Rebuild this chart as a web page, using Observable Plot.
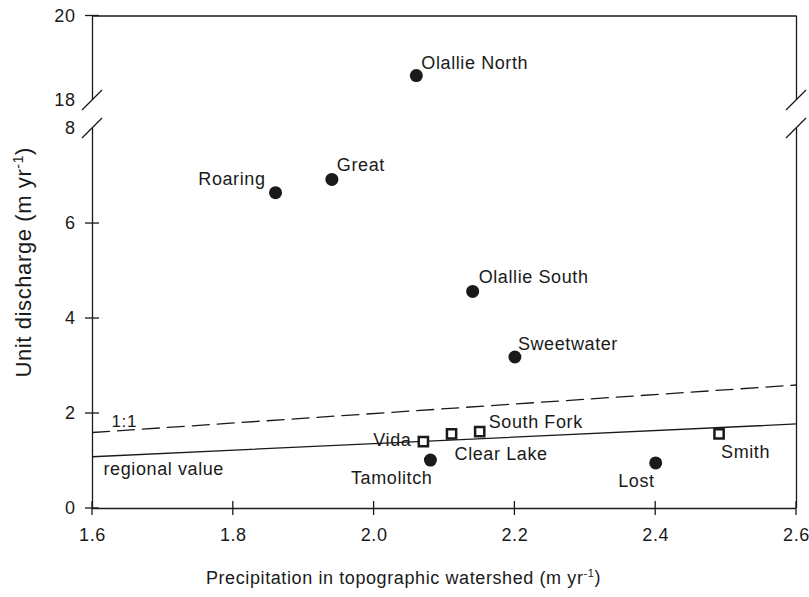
<!DOCTYPE html>
<html><head><meta charset="utf-8">
<script src="https://cdn.jsdelivr.net/npm/d3@7"></script>
<script src="https://cdn.jsdelivr.net/npm/@observablehq/plot@0.6"></script>
<style>
body{margin:0;background:#fff}
#chart svg text{letter-spacing:0.6px}
#chart g[aria-label$="tick label"]{font-size:18px}
</style>
</head><body><div id="chart"></div>
<script>
// ---- data ----
const sites     = ["Olallie North","Great","Roaring","Olallie South","Sweetwater","Tamolitch","Lost","Vida","Clear Lake","South Fork","Smith"];
const precip    = [2.06, 1.94, 1.86, 2.14, 2.20, 2.08, 2.40, 2.07, 2.11, 2.15, 2.49];
const discharge = [18.59, 6.93, 6.65, 4.57, 3.19, 1.02, 0.96, 1.41, 1.57, 1.62, 1.57];
const siteType  = ["circle","circle","circle","circle","circle","circle","circle","square","square","square","square"];
const lineX        = [1.6, 2.6];
const oneToOneY    = [1.6, 2.6];
const regionalY    = [1.09, 1.78];
const xTicks = [1.6, 1.8, 2.0, 2.2, 2.4, 2.6];
const yTicks = [0, 2, 4, 6, 8, 18, 20];
const yTickMarks = [0, 2, 4, 6, 20];
const lowerSpan = [0, 8];
const upperSpan = [18, 20];
const xTitle = "Precipitation in topographic watershed (m yr-1)";
const yTitle = "Unit discharge (m yr-1)";

// ---- broken-axis mapping (lower panel 0–8, upper panel 18–20) ----
const breakGap = 0.59;      // space between the panels, in lower-panel units
const upperScale = 0.89;    // relative vertical scale of the upper panel
const f = v => v <= lowerSpan[1] ? v : lowerSpan[1] + breakGap + (v - upperSpan[0]) * upperScale;

// ---- layout / style ----
const ink = "#1a1a1a";
const font = "'Liberation Sans', Arial, sans-serif";
const labelPos = {
  "Olallie North": {a:"start", dx:5,  dy:-12},
  "Great":         {a:"start", dx:5,  dy:-14},
  "Roaring":       {a:"end",   dx:-10,dy:-13},
  "Olallie South": {a:"start", dx:6,  dy:-14},
  "Sweetwater":    {a:"start", dx:3,  dy:-13},
  "Tamolitch":     {a:"end",   dx:2,  dy:18},
  "Lost":          {a:"end",   dx:-1, dy:18},
  "Vida":          {a:"end",   dx:-12,dy:-1},
  "Clear Lake":    {a:"start", dx:3,  dy:20},
  "South Fork":    {a:"start", dx:9,  dy:-9},
  "Smith":         {a:"start", dx:2,  dy:18}
};

const idx = sites.map((_, i) => i);
const circles = idx.filter(i => siteType[i] === "circle");
const squares = idx.filter(i => siteType[i] === "square");
const lines = lineX.map((x, i) => ({x, one: oneToOneY[i], reg: regionalY[i]}));

function decorations(index, scales) {
  const {x, y} = scales;
  const g = d3.create("svg:g").attr("stroke", ink).attr("stroke-width", 1.3).attr("fill", "none");
  for (const t of yTickMarks)
    g.append("line").attr("x1", x(lineX[0]) - 7).attr("x2", x(lineX[0]) + 7).attr("y1", y(f(t))).attr("y2", y(f(t)));
  for (const t of xTicks)
    g.append("line").attr("x1", x(t)).attr("x2", x(t)).attr("y1", y(0) - 7).attr("y2", y(0) + 7);
  for (const b of [lowerSpan[1], upperSpan[0]]) for (const xv of lineX)
    g.append("line").attr("x1", x(xv) - 10).attr("x2", x(xv) + 10).attr("y1", y(f(b)) + 10).attr("y2", y(f(b)) - 10);
  return g.node();
}

const labelMarks = idx.map(i => Plot.text([i], {
  x: j => precip[j], y: j => f(discharge[j]), text: j => sites[j],
  textAnchor: labelPos[sites[i]].a, dx: labelPos[sites[i]].dx, dy: labelPos[sites[i]].dy,
  fontSize: 18, fill: ink
}));

const chart = Plot.plot({
  width: 809, height: 597,
  marginLeft: 92, marginRight: 13, marginTop: 15.5, marginBottom: 89,
  style: {fontFamily: font, fontSize: "18px", background: "#fff", color: ink},
  x: {domain: [1.6, 2.6]},
  y: {domain: [0, f(upperSpan[1])]},
  marks: [
    Plot.axisX({ticks: xTicks, tickSize: 0, tickPadding: 20, tickFormat: d => d.toFixed(1), label: null}),
    Plot.axisY({ticks: yTicks.map(f), tickSize: 0, tickPadding: 17, tickFormat: (d, i) => String(yTicks[i]), label: null}),
    Plot.ruleY([f(upperSpan[1])], {stroke: ink, strokeWidth: 1.3}),
    Plot.ruleY([lowerSpan[0]], {stroke: ink, strokeWidth: 1.3}),
    Plot.ruleX(lineX, {y1: f(upperSpan[0]), y2: f(upperSpan[1]), stroke: ink, strokeWidth: 1.3}),
    Plot.ruleX(lineX, {y1: lowerSpan[0], y2: lowerSpan[1], stroke: ink, strokeWidth: 1.3}),
    decorations,
    Plot.line(lines, {x: "x", y: "one", stroke: ink, strokeWidth: 1.3, strokeDasharray: "17,8"}),
    Plot.line(lines, {x: "x", y: "reg", stroke: ink, strokeWidth: 1.3}),
    Plot.text([lines[0]], {x: "x", y: "one", text: () => "1:1", textAnchor: "start", dx: 19, dy: -11, fontSize: 17, fill: ink}),
    Plot.text([lines[0]], {x: "x", y: "reg", text: () => "regional value", textAnchor: "start", dx: 11, dy: 13, fontSize: 18, fill: ink}),
    Plot.dot(circles, {x: i => precip[i], y: i => f(discharge[i]), r: 6.5, fill: ink, stroke: null}),
    Plot.dot(squares, {x: i => precip[i], y: i => f(discharge[i]), symbol: "square", r: 5.2, fill: "#fff", stroke: ink, strokeWidth: 2.5}),
    ...labelMarks,
    Plot.text([xTitle], {frameAnchor: "bottom", textAnchor: "middle", dx: -41, dy: 75, fontSize: 18, fill: ink}),
    Plot.text([yTitle], {frameAnchor: "left", textAnchor: "middle", lineAnchor: "middle", rotate: -90, dx: -69, dy: 0, fontSize: 22, fill: ink})
  ]
});
document.getElementById("chart").appendChild(chart);

// superscript "-1" in the axis titles
for (const t of chart.querySelectorAll("text")) {
  const s = t.textContent;
  if (s.endsWith("yr-1)") && t.children.length === 0) {
    const size = parseFloat(t.closest("g").getAttribute("font-size")) || 18;
    t.textContent = "";
    const base = s.slice(0, s.length - 3);
    const a = document.createElementNS("http://www.w3.org/2000/svg", "tspan"); a.textContent = base;
    const b = document.createElementNS("http://www.w3.org/2000/svg", "tspan"); b.textContent = "-1";
    b.setAttribute("font-size", String(Math.round(size * 0.62))); b.setAttribute("dy", "-0.55em");
    const c = document.createElementNS("http://www.w3.org/2000/svg", "tspan"); c.textContent = ")";
    c.setAttribute("dy", String(Math.round(size * 0.62 * 0.55)));
    t.append(a, b, c);
  }
}
</script>
</body></html>
